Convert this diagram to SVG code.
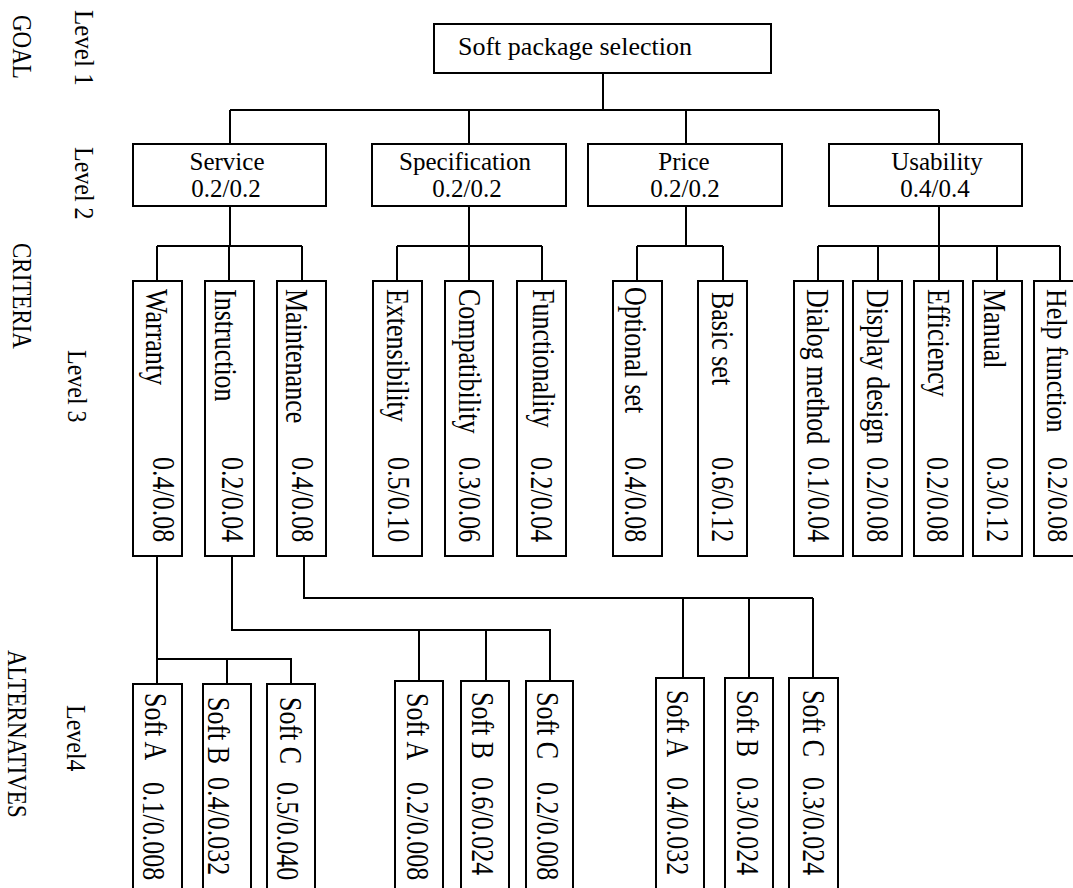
<svg xmlns="http://www.w3.org/2000/svg" width="1073" height="888" viewBox="0 0 1073 888">
<style>
.box{fill:#fff;stroke:#000;stroke-width:2}
.ln{fill:none;stroke:#000;stroke-width:2}
text{font-family:"Liberation Serif","Times New Roman",serif;fill:#000}
.t26{font-size:26px}
.t25{font-size:25px;text-anchor:middle}
.lab{font-size:24px}
.cap{font-size:23px}
</style>
<rect width="1073" height="888" fill="#fff"/>
<g id="labels">
<text class="cap" transform="translate(13,15) rotate(90) scale(1,1.15)">GOAL</text>
<text class="cap" transform="translate(13,243) rotate(90) scale(1,1.15)">CRITERIA</text>
<text class="cap" transform="translate(8,650) rotate(90) scale(1,1.15)">ALTERNATIVES</text>
<text class="lab" transform="translate(75,10) rotate(90) scale(1,1.1)" style="font-size:25px">Level 1</text>
<text class="lab" transform="translate(75,147) rotate(90) scale(1,1.1)">Level 2</text>
<text class="lab" transform="translate(68,350) rotate(90) scale(1,1.1)">Level 3</text>
<text class="lab" transform="translate(67,705) rotate(90) scale(1,1.1)">Level4</text>
</g>
<g id="connectors">
<path class="ln" d="M603,73 V110 M230,110 H939 M230,110 V144 M469,110 V144 M686,110 V144 M939,110 V144"/>
<path class="ln" d="M230,206 V246 M157,246 H302 M157,246 V281 M229,246 V281 M302,246 V281"/>
<path class="ln" d="M469,206 V246 M397,246 H542 M397,246 V281 M469,246 V281 M542,246 V281"/>
<path class="ln" d="M686,206 V246 M637,246 H723 M637,246 V281 M723,246 V281"/>
<path class="ln" d="M939,206 V246 M818,246 H1060 M818,246 V281 M878,246 V281 M939,246 V281 M997,246 V281 M1060,246 V281"/>
<path class="ln" d="M157,556 V659 M157,659 H292 M157,659 V684 M227,659 V684 M291,659 V684"/>
<path class="ln" d="M232,556 V630 H551 M419,630 V681 M486,630 V681 M550,630 V681"/>
<path class="ln" d="M304,556 V598 H813 M683,598 V678 M749,598 V678 M813,598 V678"/>
</g>
<g id="goal">
<rect class="box" x="434" y="24" width="337" height="49"/>
<text class="t26" x="458" y="55">Soft package selection</text>
</g>
<g id="service">
<rect class="box" x="133" y="144" width="193" height="62"/>
<text class="t25" x="227" y="170">Service</text>
<text class="t25" x="226" y="197">0.2/0.2</text>
</g>
<g id="specification">
<rect class="box" x="372" y="144" width="194" height="62"/>
<text class="t25" x="465" y="170">Specification</text>
<text class="t25" x="467" y="197">0.2/0.2</text>
</g>
<g id="price">
<rect class="box" x="588" y="144" width="194" height="62"/>
<text class="t25" x="684" y="170">Price</text>
<text class="t25" x="685" y="197">0.2/0.2</text>
</g>
<g id="usability">
<rect class="box" x="829" y="144" width="193" height="62"/>
<text class="t25" x="937" y="170">Usability</text>
<text class="t25" x="935" y="197">0.4/0.4</text>
</g>
<g id="warranty">
<rect class="box" x="133" y="281" width="49" height="275"/>
<text class="t26" transform="translate(146,289) rotate(90) scale(1,1.2)">Warranty</text>
<text class="t26" transform="translate(153,457) rotate(90) scale(1,1.2)">0.4/0.08</text>
</g>
<g id="instruction">
<rect class="box" x="205" y="281" width="49" height="275"/>
<text class="t26" transform="translate(215,289) rotate(90) scale(1,1.2)">Instruction</text>
<text class="t26" transform="translate(222,457) rotate(90) scale(1,1.2)">0.2/0.04</text>
</g>
<g id="maintenance">
<rect class="box" x="277" y="281" width="49" height="275"/>
<text class="t26" transform="translate(286,289) rotate(90) scale(1,1.2)">Maintenance</text>
<text class="t26" transform="translate(292,457) rotate(90) scale(1,1.2)">0.4/0.08</text>
</g>
<g id="extensibility">
<rect class="box" x="373" y="281" width="49" height="275"/>
<text class="t26" transform="translate(387,289) rotate(90) scale(1,1.2)">Extensibility</text>
<text class="t26" transform="translate(388,457) rotate(90) scale(1,1.2)">0.5/0.10</text>
</g>
<g id="compatibility">
<rect class="box" x="445" y="281" width="48" height="275"/>
<text class="t26" transform="translate(459,289) rotate(90) scale(1,1.2)">Compatibility</text>
<text class="t26" transform="translate(459,457) rotate(90) scale(1,1.2)">0.3/0.06</text>
</g>
<g id="functionality">
<rect class="box" x="517" y="281" width="49" height="275"/>
<text class="t26" transform="translate(533,289) rotate(90) scale(1,1.2)">Functionality</text>
<text class="t26" transform="translate(531,457) rotate(90) scale(1,1.2)">0.2/0.04</text>
</g>
<g id="optional-set">
<rect class="box" x="613" y="281" width="49" height="275"/>
<text class="t26" transform="translate(625,287) rotate(90) scale(1,1.2)">Optional set</text>
<text class="t26" transform="translate(625,457) rotate(90) scale(1,1.2)">0.4/0.08</text>
</g>
<g id="basic-set">
<rect class="box" x="698" y="281" width="49" height="275"/>
<text class="t26" transform="translate(712,292) rotate(90) scale(1,1.2)">Basic set</text>
<text class="t26" transform="translate(712,457) rotate(90) scale(1,1.2)">0.6/0.12</text>
</g>
<g id="dialog-method">
<rect class="box" x="794" y="281" width="49" height="275"/>
<text class="t26" transform="translate(807,289) rotate(90) scale(1,1.2)">Dialog method</text>
<text class="t26" transform="translate(808,457) rotate(90) scale(1,1.2)">0.1/0.04</text>
</g>
<g id="display-design">
<rect class="box" x="853" y="281" width="49" height="275"/>
<text class="t26" transform="translate(867,289) rotate(90) scale(1,1.2)">Display design</text>
<text class="t26" transform="translate(867,457) rotate(90) scale(1,1.2)">0.2/0.08</text>
</g>
<g id="efficiency">
<rect class="box" x="914" y="281" width="49" height="275"/>
<text class="t26" transform="translate(928,289) rotate(90) scale(1,1.2)">Efficiency</text>
<text class="t26" transform="translate(927,457) rotate(90) scale(1,1.2)">0.2/0.08</text>
</g>
<g id="manual">
<rect class="box" x="973" y="281" width="49" height="275"/>
<text class="t26" transform="translate(984,289) rotate(90) scale(1,1.2)">Manual</text>
<text class="t26" transform="translate(987,457) rotate(90) scale(1,1.2)">0.3/0.12</text>
</g>
<g id="help-function">
<rect class="box" x="1034" y="281" width="49" height="275"/>
<text class="t26" transform="translate(1047,289) rotate(90) scale(1,1.15)">Help function</text>
<text class="t26" transform="translate(1048,457) rotate(90) scale(1,1.15)">0.2/0.08</text>
</g>
<g id="warranty-soft-a">
<rect class="box" x="133" y="684" width="49" height="220"/>
<text class="t26" transform="translate(145,693) rotate(90) scale(1,1.2)">Soft A</text>
<text class="t26" transform="translate(143,782) rotate(90) scale(1,1.2)">0.1/0.008</text>
</g>
<g id="warranty-soft-b">
<rect class="box" x="203" y="684" width="48" height="220"/>
<text class="t26" transform="translate(208,697) rotate(90) scale(1,1.2)">Soft B</text>
<text class="t26" transform="translate(208,777) rotate(90) scale(1,1.2)">0.4/0.032</text>
</g>
<g id="warranty-soft-c">
<rect class="box" x="267" y="684" width="48" height="220"/>
<text class="t26" transform="translate(280,697) rotate(90) scale(1,1.2)">Soft C</text>
<text class="t26" transform="translate(277,782) rotate(90) scale(1,1.2)">0.5/0.040</text>
</g>
<g id="instruction-soft-a">
<rect class="box" x="395" y="681" width="48" height="220"/>
<text class="t26" transform="translate(407,693) rotate(90) scale(1,1.2)">Soft A</text>
<text class="t26" transform="translate(407,782) rotate(90) scale(1,1.2)">0.2/0.008</text>
</g>
<g id="instruction-soft-b">
<rect class="box" x="461" y="681" width="48" height="220"/>
<text class="t26" transform="translate(472,692) rotate(90) scale(1,1.2)">Soft B</text>
<text class="t26" transform="translate(472,777) rotate(90) scale(1,1.2)">0.6/0.024</text>
</g>
<g id="instruction-soft-c">
<rect class="box" x="526" y="681" width="47" height="220"/>
<text class="t26" transform="translate(537,692) rotate(90) scale(1,1.2)">Soft C</text>
<text class="t26" transform="translate(537,782) rotate(90) scale(1,1.2)">0.2/0.008</text>
</g>
<g id="maintenance-soft-a">
<rect class="box" x="656" y="678" width="48" height="220"/>
<text class="t26" transform="translate(667,690) rotate(90) scale(1,1.2)">Soft A</text>
<text class="t26" transform="translate(667,777) rotate(90) scale(1,1.2)">0.4/0.032</text>
</g>
<g id="maintenance-soft-b">
<rect class="box" x="725" y="678" width="48" height="220"/>
<text class="t26" transform="translate(737,690) rotate(90) scale(1,1.2)">Soft B</text>
<text class="t26" transform="translate(737,777) rotate(90) scale(1,1.2)">0.3/0.024</text>
</g>
<g id="maintenance-soft-c">
<rect class="box" x="789" y="678" width="49" height="220"/>
<text class="t26" transform="translate(803,690) rotate(90) scale(1,1.2)">Soft C</text>
<text class="t26" transform="translate(803,777) rotate(90) scale(1,1.2)">0.3/0.024</text>
</g>
</svg>
